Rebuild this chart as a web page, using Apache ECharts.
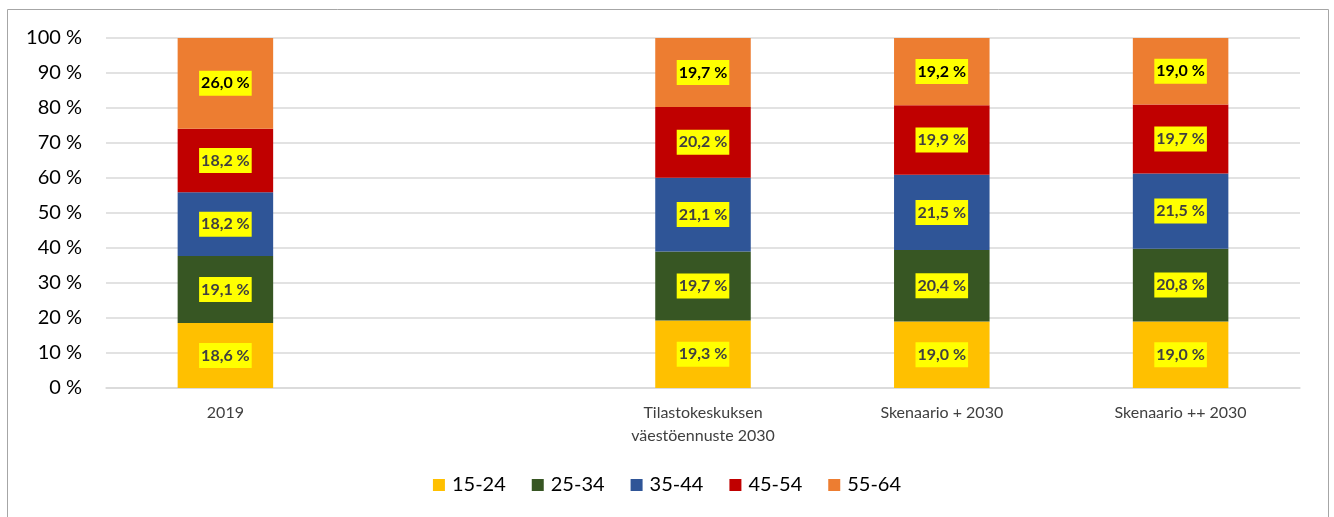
<!DOCTYPE html>
<html><head><meta charset="utf-8">
<script src="https://cdn.jsdelivr.net/npm/echarts@6/dist/echarts.min.js"></script>
<style>html,body{margin:0;padding:0;background:#fff}#c{width:1334px;height:517px}</style>
</head><body><div id="c"></div>
<script>
const categories = ["2019", "", "Tilastokeskuksen\nväestöennuste 2030", "Skenaario + 2030", "Skenaario ++ 2030"];
const seriesNames = ["15-24", "25-34", "35-44", "45-54", "55-64"];
const s15_24 = [18.6, null, 19.3, 19.0, 19.0];
const s25_34 = [19.1, null, 19.7, 20.4, 20.8];
const s35_44 = [18.2, null, 21.1, 21.5, 21.5];
const s45_54 = [18.2, null, 20.2, 19.9, 19.7];
const s55_64 = [26.0, null, 19.7, 19.2, 19.0];
const yTicks = [0, 10, 20, 30, 40, 50, 60, 70, 80, 90, 100];
const colors = ["#FFC000", "#375623", "#2F5597", "#C00000", "#ED7D31"];
const labelColors = ["#404040", "#404040", "#404040", "#404040", "#000000"];
const values = [s15_24, s25_34, s35_44, s45_54, s55_64];
const FONT = "Lato";

const chart = echarts.init(document.getElementById('c'), null, {renderer: 'canvas'});
chart.setOption({
  animation: false,
  textStyle: {fontFamily: FONT},
  graphic: [{type: 'rect', shape: {x: 7.5, y: 9.5, width: 1321, height: 520}, style: {fill: 'none', stroke: '#a6a6a6', lineWidth: 1}, silent: true}],
  grid: {left: 106, right: 34, top: 38, bottom: 129, containLabel: false},
  legend: {
    data: seriesNames, bottom: 17, left: 'center', itemWidth: 12, itemHeight: 12, itemGap: 26, icon: 'rect',
    textStyle: {fontSize: 20, color: '#000', fontFamily: FONT, padding: [0, 0, 0, 2]}
  },
  xAxis: {
    type: 'category', data: categories,
    axisLine: {show: true, lineStyle: {color: '#d9d9d9', width: 1.5}},
    axisTick: {show: false},
    axisLabel: {fontSize: 16, color: '#404040', fontFamily: FONT, margin: 13, lineHeight: 23, interval: 0}
  },
  yAxis: {
    type: 'value', min: 0, max: 100, interval: 10,
    axisLine: {show: false}, axisTick: {show: false},
    splitLine: {lineStyle: {color: '#d9d9d9', width: 1.5}},
    axisLabel: {fontSize: 20, color: '#000', fontFamily: FONT, margin: 24,
      formatter: v => yTicks.includes(v) ? v + ' %' : ''}
  },
  series: seriesNames.map((n, i) => ({
    name: n, type: 'bar', stack: 'total', barWidth: '40%',
    data: values[i],
    itemStyle: {color: colors[i]},
    label: {
      show: true, position: 'inside', fontSize: 16, fontWeight: 'bold', fontFamily: FONT,
      color: labelColors[i], backgroundColor: '#FFFF00', padding: [5, 2, 4, 2],
      formatter: p => p.value == null ? '' : p.value.toFixed(1).replace('.', ',') + ' %'
    }
  }))
});
</script></body></html>
